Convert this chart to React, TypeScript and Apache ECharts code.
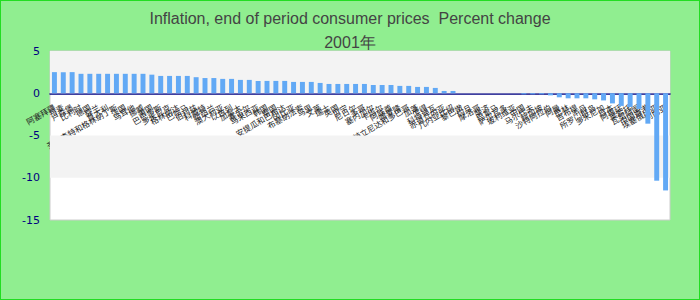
import React, { useEffect, useRef } from "react";
import * as echarts from "echarts";

const titleText = "Inflation, end of period consumer prices  Percent change";
const subTitleText = "2001年";

const categories: string[] = [
  "阿塞拜疆", "丹麦", "卢森堡", "比利时", "德国", "芬兰", "意大利", "圣文森特和格林纳丁斯", "法国", "马耳他",
  "挪威", "美国", "巴巴多斯", "多米尼克", "格林纳达", "巴哈马", "伯利兹", "科威特", "新西兰", "澳大利亚",
  "以色列", "加拿大", "塞舌尔", "马来西亚", "韩国", "泰国", "安提瓜和巴布达", "冈比亚", "布基纳法索", "马里",
  "文莱", "瑞士", "英国", "贝宁", "尼日尔", "多哥", "塞内加尔", "卡塔尔", "阿联酋", "喀麦隆",
  "特立尼达和多巴哥", "加蓬", "乍得", "科特迪瓦", "赤道几内亚", "几内亚比绍", "黎巴嫩", "约旦", "摩洛哥", "斐济",
  "巴拿马", "萨尔瓦多", "玻利维亚", "中国", "马尔代夫", "新加坡", "沙特阿拉伯", "阿曼", "巴林", "吉布提",
  "不丹", "所罗门群岛", "多米尼加", "日本", "阿根廷", "莱索托", "瓦努阿图", "中国香港", "埃塞俄比亚", "利比亚",
];

const values: number[] = [
  2.5, 2.5, 2.5, 2.3, 2.3, 2.3, 2.3, 2.3, 2.3, 2.3,
  2.3, 2.2, 2.05, 2.05, 2.05, 2.05, 1.9, 1.8, 1.8, 1.7,
  1.7, 1.58, 1.58, 1.46, 1.46, 1.46, 1.46, 1.34, 1.34, 1.34,
  1.22, 1.1, 1.1, 1.1, 1.1, 1.1, 0.98, 0.98, 0.98, 0.87,
  0.87, 0.75, 0.75, 0.63, 0.27, 0.27, 0, 0, 0, 0,
  0, 0, 0, -0.12, -0.12, -0.12, -0.25, -0.48, -0.6, -0.6,
  -0.6, -0.72, -0.85, -1.2, -1.5, -1.62, -1.85, -3.6, -10.35, -11.5,
];

const yMin = -15;
const yMax = 5;
const yInterval = 5;
// shaded value bands (alternating background stripes)
const shadedBands: [number, number][] = [
  [0, 5],
  [-10, -5],
];

const CHART_W = 698;
const CHART_H = 298;
const GRID_TOP = 50;
const GRID_BOTTOM = 79;

export default function App() {
  const ref = useRef<HTMLDivElement>(null);
  useEffect(() => {
    document.body.style.margin = "0";
    if (!ref.current) return;
    const chart = echarts.init(ref.current, undefined, { renderer: "svg" });
    const plotH = CHART_H - GRID_TOP - GRID_BOTTOM;
    const zeroOffset = -((0 - yMin) / (yMax - yMin)) * plotH;
    chart.setOption({
      animation: false,
      backgroundColor: "#90ee90",
      title: {
        text: titleText + "\n" + subTitleText,
        left: "center",
        top: 0,
        textStyle: {
          fontFamily: "Liberation Sans, Arial, sans-serif",
          fontSize: 16,
          fontWeight: "normal",
          color: "#444444",
          lineHeight: 24,
        },
      },
      grid: {
        left: 49,
        right: 29,
        top: GRID_TOP,
        bottom: GRID_BOTTOM,
        show: true,
        borderColor: "#cccccc",
        borderWidth: 1,
        backgroundColor: "#ffffff",
      },
      xAxis: {
        type: "category",
        data: categories,
        position: "bottom",
        offset: zeroOffset,
        axisLine: { onZero: false, lineStyle: { color: "#000080", width: 1.5 } },
        axisTick: { show: false },
        axisLabel: {
          interval: 0,
          rotate: 30,
          fontSize: 8,
          color: "#222222",
          margin: 13,
          fontFamily: "Noto Sans CJK SC, sans-serif",
        },
        splitLine: { show: false },
      },
      yAxis: {
        type: "value",
        min: yMin,
        max: yMax,
        interval: yInterval,
        axisLine: { show: false },
        axisTick: { show: false },
        splitLine: { show: false },
        splitArea: { show: false },
        axisLabel: {
          color: "#000080",
          fontSize: 11,
          fontFamily: "DejaVu Sans, sans-serif",
          margin: 10,
        },
      },
      series: [
        {
          type: "bar",
          data: values,
          barWidth: "56%",
          itemStyle: { color: "#62a9f5" },
          markArea: {
            silent: true,
            itemStyle: { color: "#f3f3f3" },
            data: shadedBands.map(([a, b]) => [{ yAxis: b }, { yAxis: a }]),
          },
        },
      ],
    });
    return () => chart.dispose();
  }, []);
  return (
    <div
      style={{
        width: 700,
        height: 300,
        boxSizing: "border-box",
        border: "1px solid #22dd22",
        background: "#90ee90",
      }}
    >
      <div ref={ref} style={{ width: CHART_W, height: CHART_H }} />
    </div>
  );
}
